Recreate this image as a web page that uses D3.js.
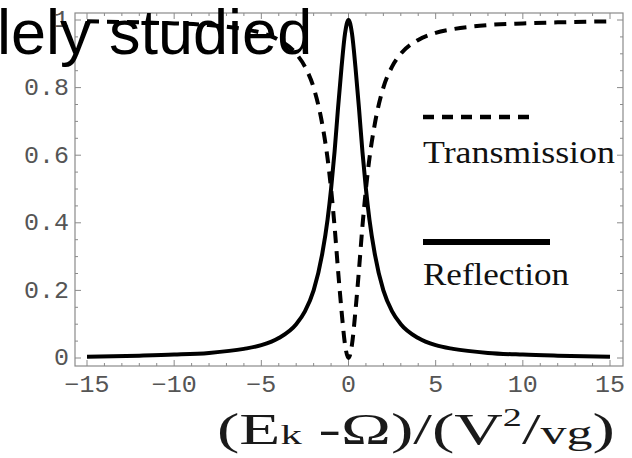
<!DOCTYPE html>
<html><head><meta charset="utf-8">
<script src="https://cdn.jsdelivr.net/npm/d3@7/dist/d3.min.js"></script>
<style>html,body{margin:0;padding:0;background:#fff;overflow:hidden}</style>
</head><body>
<svg id="c" width="632" height="458"></svg>
<script>
// Data
const xValues = [-15,-12,-10,-8,-6,-5,-4,-3,-2.5,-2,-1.5,-1.2,-1,-0.8,-0.6,-0.4,-0.2,0,0.2,0.4,0.6,0.8,1,1.2,1.5,2,2.5,3,4,5,6,8,10,12,15];
const reflection = [0.004,0.007,0.010,0.015,0.027,0.038,0.059,0.10,0.138,0.20,0.31,0.41,0.50,0.61,0.74,0.86,0.96,1.0,0.96,0.86,0.74,0.61,0.50,0.41,0.31,0.20,0.138,0.10,0.059,0.038,0.027,0.015,0.010,0.007,0.004];
const transmission = [0.996,0.993,0.990,0.985,0.973,0.962,0.941,0.90,0.862,0.80,0.69,0.59,0.50,0.39,0.26,0.14,0.04,0.0,0.04,0.14,0.26,0.39,0.50,0.59,0.69,0.80,0.862,0.90,0.941,0.962,0.973,0.985,0.990,0.993,0.996];
const xTicks = [-15,-10,-5,0,5,10,15];
const xTickLabels = ["\u221215","\u221210","\u22125","0","5","10","15"];
const yTicks = [0,0.2,0.4,0.6,0.8,1];
const yTickLabels = ["0","0.2","0.4","0.6","0.8","1"];
const legendLabels = ["Transmission","Reflection"];

const svg = d3.select("#c");
const x = d3.scaleLinear().domain([-15,15]).range([87,610]);
const y = d3.scaleLinear().domain([0,1]).range([358,20]);
const frame = {l:75, r:623, t:13, b:366};
const gray = "#8a8a8a";

// frame
svg.append("rect").attr("x",frame.l).attr("y",frame.t)
  .attr("width",frame.r-frame.l).attr("height",frame.b-frame.t)
  .attr("fill","none").attr("stroke",gray).attr("stroke-width",1.2);

// ticks on all sides (inward)
const xMinor = d3.range(-15,15.01,1);
const yMinor = d3.range(0,1.001,0.05);
const tg = svg.append("g").attr("stroke",gray).attr("stroke-width",1);
xMinor.forEach(v=>{
  const len = (Math.abs(v)%5===0)?6:3;
  tg.append("line").attr("x1",x(v)).attr("x2",x(v)).attr("y1",frame.b).attr("y2",frame.b-len);
  tg.append("line").attr("x1",x(v)).attr("x2",x(v)).attr("y1",frame.t).attr("y2",frame.t+len);
});
yMinor.forEach(v=>{
  const major = Math.abs(v*5-Math.round(v*5))<1e-6;
  const len = major?6:3;
  tg.append("line").attr("y1",y(v)).attr("y2",y(v)).attr("x1",frame.l).attr("x2",frame.l+len);
  tg.append("line").attr("y1",y(v)).attr("y2",y(v)).attr("x1",frame.r).attr("x2",frame.r-len);
});

// stretch a text horizontally around its anchor point using a transform
function stretch(sel, w, ax, ay){
  const L = sel.node().getComputedTextLength();
  const s = w / L;
  sel.attr("transform", `translate(${ax},${ay}) scale(${s},1) translate(${-ax},${-ay})`);
}

// tick labels
const monoFont = "'Liberation Mono','DejaVu Sans Mono',monospace";
xTicks.forEach((v,i)=>{
  const t = svg.append("text").attr("x",x(v)).attr("y",392).attr("text-anchor","middle")
    .attr("font-family",monoFont).attr("font-size",23).attr("fill","#555").text(xTickLabels[i]);
  stretch(t, xTickLabels[i].length*15, x(v), 392);
});
yTicks.forEach((v,i)=>{
  const t = svg.append("text").attr("x",69).attr("y",y(v)+7.5).attr("text-anchor","end")
    .attr("font-family",monoFont).attr("font-size",23).attr("fill","#555").text(yTickLabels[i]);
  stretch(t, yTickLabels[i].length*15, 69, y(v)+7.5);
});

// curves
const pts = (arr)=>xValues.map((xv,i)=>[xv,arr[i]]);
const line = d3.line().x(d=>x(d[0])).y(d=>y(d[1])).curve(d3.curveMonotoneX);
svg.append("path").attr("d",line(pts(transmission))).attr("fill","none")
  .attr("stroke","#000").attr("stroke-width",4).attr("stroke-dasharray","12,8");
svg.append("path").attr("d",line(pts(reflection))).attr("fill","none")
  .attr("stroke","#000").attr("stroke-width",4);

// legend
const serif = "'Liberation Serif','Times New Roman',serif";
svg.append("line").attr("x1",423).attr("x2",537).attr("y1",117).attr("y2",117)
  .attr("stroke","#000").attr("stroke-width",4.5).attr("stroke-dasharray","11,8");
const lt = svg.append("text").attr("x",423).attr("y",163).attr("font-family",serif)
  .attr("font-size",32).attr("fill","#111").text(legendLabels[0]);
stretch(lt,192,423,163);
svg.append("line").attr("x1",423).attr("x2",550).attr("y1",242).attr("y2",242)
  .attr("stroke","#000").attr("stroke-width",6);
const lr = svg.append("text").attr("x",423).attr("y",285).attr("font-family",serif)
  .attr("font-size",32).attr("fill","#111").text(legendLabels[1]);
stretch(lr,146,423,285);

// axis title
const at = svg.append("text").attr("x",217).attr("y",444).attr("font-family",serif)
  .attr("font-size",44).attr("fill","#1a1a1a");
at.append("tspan").text("(E");
at.append("tspan").attr("font-size",28).text("k");
at.append("tspan").text(" -\u03A9)/(V");
at.append("tspan").attr("font-size",25).attr("dy",-18).text("2");
at.append("tspan").attr("dy",18).text("/");
at.append("tspan").attr("font-size",34).text("vg");
at.append("tspan").text(")");
stretch(at,398,217,444);

// overlay text
svg.append("text").attr("x",-3).attr("y",54).attr("font-family","'Liberation Sans',Arial,sans-serif")
  .attr("font-size",63).attr("fill","#000").text("lely studied");
</script>
</body></html>
